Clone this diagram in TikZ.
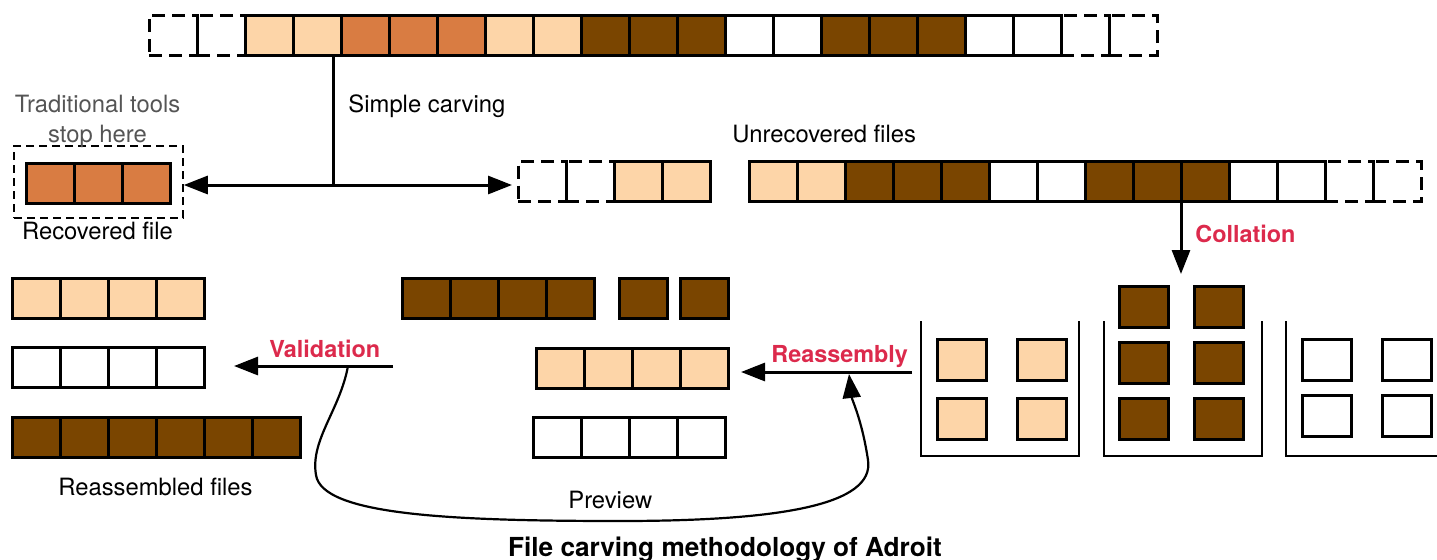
\documentclass[tikz,border=0pt]{standalone}
\usepackage{fontspec}
\setmainfont{TeX Gyre Heros}
\usetikzlibrary{arrows.meta}
\definecolor{peach}{HTML}{FDD5A8}
\definecolor{rust}{HTML}{D97C42}
\definecolor{umber}{HTML}{7A4500}
\definecolor{crimson}{HTML}{DC2A4C}
\definecolor{txtgray}{HTML}{555555}
\tikzset{
  cell/.style={draw, line width=1.5pt, minimum width=24pt, minimum height=20pt, inner sep=0pt, outer sep=0pt},
  cL/.style={cell, fill=peach},
  cO/.style={cell, fill=rust},
  cB/.style={cell, fill=umber},
  cW/.style={cell, fill=white},
  cD/.style={draw, line width=1.5pt, dash pattern=on 6.5pt off 3.5pt, minimum width=24pt, minimum height=20pt, inner sep=0pt, outer sep=0pt},
  sq/.style={draw, line width=1.5pt, minimum width=24.5pt, minimum height=20.5pt, inner sep=0pt},
  binwall/.style={line width=1.3pt},
  arr/.style={line width=1.5pt, -{Triangle[length=12pt,width=9pt]}},
  lbl/.style={font=\fontsize{11.9pt}{14pt}\selectfont, inner sep=0pt},
  redlbl/.style={font=\bfseries\fontsize{11.7pt}{14pt}\selectfont, text=crimson, inner sep=0pt},
}
\newcommand\cellrow[4]{%
  \foreach \s [count=\i] in {#4} {
    \node[\s] (#1-\i) at ({#2+(\i-0.5)*48}, #3) {};
  }}
\begin{document}
\begin{tikzpicture}[x=0.5pt, y=-0.5pt]
\useasboundingbox (0,0) rectangle (1437,559);

% top strip
\cellrow{top}{149}{35}{cD,cD,cL,cL,cO,cO,cO,cL,cL,cB,cB,cB,cW,cW,cB,cB,cB,cW,cW,cD,cD}

% recovered file
\node[draw, line width=0.75pt, dash pattern=on 4pt off 2.5pt, minimum width=84.5pt, minimum height=36pt, inner sep=0pt] (recbox) at (98.5,182) {};
\cellrow{rec}{26}{183.5}{cO,cO,cO}
\node[lbl, text=txtgray, anchor=base] (trad1) at (97.5,112) {Traditional tools};
\node[lbl, text=txtgray, anchor=base] (trad2) at (97.5,142) {stop here};
\node[lbl, anchor=base] (recl) at (97.5,239) {Recovered file};

% unrecovered files
\cellrow{ua}{518}{181.5}{cD,cD,cL,cL}
\cellrow{ub}{749}{181.5}{cL,cL,cB,cB,cB,cW,cW,cB,cB,cB,cW,cW,cD,cD}
\node[lbl, anchor=base west] (unrl) at (732,142) {Unrecovered files};

% simple carving
\coordinate (split) at (333,185);
\draw[line width=1.5pt] (split |- top-4.south) -- (split);
\draw[arr] (split) -- (split -| recbox.east);
\draw[arr, shorten >=3pt] (split) -- (split -| ua-1.west);
\node[lbl, anchor=base west] (simple) at (348,112) {Simple carving};

% collation
\coordinate (colend) at (1181,274);
\draw[arr] (ub-9.south east) -- (colend);
\node[redlbl, anchor=base west] (coll) at (1195,242) {Collation};

% bins
\draw[binwall] (921,321) -- (921,456) -- (1079,456) -- (1079,321);
\draw[binwall] (1104,321) -- (1104,456) -- (1262,456) -- (1262,321);
\draw[binwall] (1286,321) -- (1286,456) -- (1437,456);
\node[sq, fill=peach] (b1a) at (961.5,359.5) {};
\node[sq, fill=peach] (b1b) at (1041.5,359.5) {};
\node[sq, fill=peach] (b1c) at (961.5,418.5) {};
\node[sq, fill=peach] (b1d) at (1041.5,418.5) {};
\node[sq, fill=umber] (b2a) at (1143.5,306.5) {};
\node[sq, fill=umber] (b2b) at (1218.5,306.5) {};
\node[sq, fill=umber] (b2c) at (1143.5,362.5) {};
\node[sq, fill=umber] (b2d) at (1218.5,362.5) {};
\node[sq, fill=umber] (b2e) at (1143.5,418.5) {};
\node[sq, fill=umber] (b2f) at (1218.5,418.5) {};
\node[sq, fill=white] (b3a) at (1326.5,360) {};
\node[sq, fill=white] (b3b) at (1406.5,360) {};
\node[sq, fill=white] (b3c) at (1326.5,416) {};
\node[sq, fill=white] (b3d) at (1406.5,416) {};

% middle rows
\cellrow{mb}{402}{298}{cB,cB,cB,cB}
\node[cB] (mb-5) at (643,298) {};
\node[cB] (mb-6) at (704,298) {};
\cellrow{ml}{536}{368}{cL,cL,cL,cL}
\cellrow{mw}{533}{437}{cW,cW,cW,cW}

% reassembly
\coordinate (rstart) at (912,372);
\draw[arr, shorten >=6.5pt] (rstart) -- (rstart -| ml-4.east);
\node[redlbl, anchor=base west] (reas) at (771,362) {Reassembly};

% left column
\cellrow{ll}{12}{298}{cL,cL,cL,cL}
\cellrow{lw}{12}{367}{cW,cW,cW,cW}
\cellrow{lb}{12}{437}{cB,cB,cB,cB,cB,cB}
\node[lbl, anchor=base west] (reasl) at (58,495) {Reassembled files};

% validation
\coordinate (vstart) at (393,366);
\draw[arr, shorten >=15pt] (vstart) -- (vstart -| lw-4.east);
\node[redlbl, anchor=base west] (vall) at (269,357) {Validation};

% preview
\coordinate (pstart) at (348,366);
\coordinate (pend) at (849,374);
\draw[line width=1.1pt, -{Triangle[length=12pt,width=9pt]}] (pstart)
  .. controls (340,410) and (310,440) .. (316,475)
  .. controls (322,515) and (450,521) .. (620,521)
  .. controls (780,521) and (875,505) .. (868,460)
  .. controls (862,420) and (852,400) .. (pend);
\node[lbl, anchor=base west] (prev) at (568,508) {Preview};

% title
\node[font=\bfseries\fontsize{13.1pt}{15pt}\selectfont, anchor=base, inner sep=0pt] (title) at (725,556) {File carving methodology of Adroit};
\end{tikzpicture}
\end{document}
